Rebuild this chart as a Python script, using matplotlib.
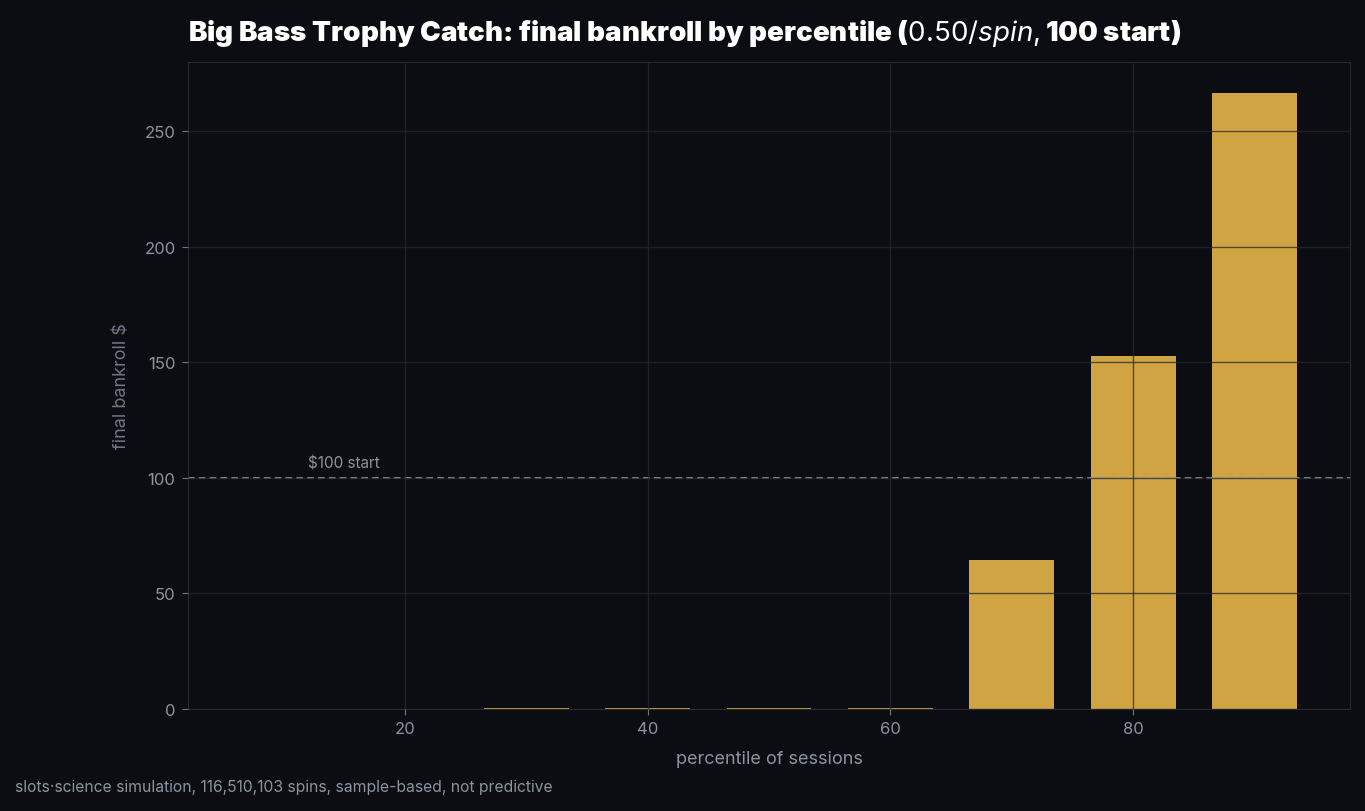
import matplotlib.pyplot as plt

percentiles = [10, 20, 30, 40, 50, 60, 70, 80, 90]
bankroll = [0.0, 0.0, 0.35, 0.35, 0.35, 0.35, 64.4, 152.6, 266.5]
start_bankroll = 100

bg = "#0b0d12"
fg = "#8b949e"
gold = "#d1a443"

plt.rcParams["font.family"] = ["Inter", "DejaVu Sans"]
plt.rcParams["mathtext.fontset"] = "custom"
plt.rcParams["mathtext.rm"] = "Inter"
plt.rcParams["mathtext.it"] = "Inter:italic"

fig = plt.figure(figsize=(13.65, 8.12), dpi=100, facecolor=bg)
ax = fig.add_axes([188 / 1365, 1 - 710 / 812, (1350 - 188) / 1365, (710 - 63) / 812])
ax.set_facecolor(bg)

ax.bar(percentiles, bankroll, width=7, color=gold)
ax.axhline(start_bankroll, color="#9aa1aa", linestyle="--", linewidth=1.2, dashes=(4, 2.5))
ax.text(12, start_bankroll + 3, "$100 start", color=fg, fontsize=11, ha="left", va="bottom")

ax.set_ylim(0, None)
ax.set_axisbelow(False)
ax.grid(True, color="#23282e", alpha=0.75, linewidth=1)
for s in ax.spines.values():
    s.set_color("#262b32")
ax.tick_params(colors=fg, labelsize=12, length=4, pad=5)
ax.tick_params(axis="both", color="#6e7681")

ax.set_xlabel("percentile of sessions", color=fg, fontsize=13, labelpad=10)
ax.set_ylabel("final bankroll $", color="#6e7681", fontsize=13, labelpad=10)
ax.set_title("Big Bass Trophy Catch: final bankroll by percentile ($0.50/spin, $100 start)",
             loc="left", color="white", fontsize=20, fontweight="black", pad=16)

fig.text(15 / 1365, 1 - 788 / 812, "slots\u00b7science simulation, 116,510,103 spins, sample-based, not predictive",
         color=fg, fontsize=11.3, va="center")

plt.savefig("out.png", dpi=100, facecolor=bg)
